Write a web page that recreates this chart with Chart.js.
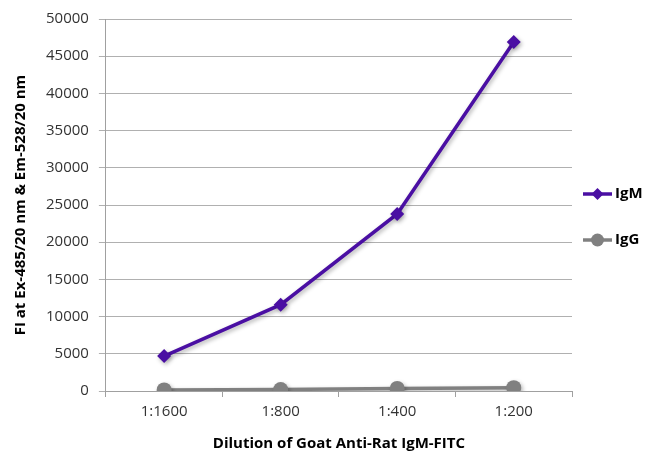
<!DOCTYPE html>
<html>
<head>
<meta charset="utf-8">
<script src="https://cdn.jsdelivr.net/npm/chart.js@4"></script>
<style>
  html, body { margin: 0; padding: 0; background: #fff; }
  #wrap { width: 652px; height: 455px; }
</style>
</head>
<body>
<div id="wrap"><canvas id="c"></canvas></div>
<script>
const categories = ["1:1600", "1:800", "1:400", "1:200"];
const igmValues = [4700, 11600, 23800, 46900];
const iggValues = [150, 200, 350, 450];
const seriesNames = ["IgM", "IgG"];
const yTicks = [0, 5000, 10000, 15000, 20000, 25000, 30000, 35000, 40000, 45000, 50000];

const legendPlugin = {
  id: 'sideLegend',
  afterDraw(chart) {
    const ctx = chart.ctx;
    const x0 = 583, x1 = 612;
    const ys = [194, 240];
    chart.data.datasets.forEach((ds, i) => {
      const y = ys[i];
      ctx.save();
      ctx.strokeStyle = ds.borderColor;
      ctx.lineWidth = 3.5;
      ctx.beginPath();
      ctx.moveTo(x0, y);
      ctx.lineTo(x1, y);
      ctx.stroke();
      ctx.fillStyle = ds.borderColor;
      const cx = (x0 + x1) / 2;
      ctx.beginPath();
      if (ds.pointStyle === 'rectRot') {
        const r = 6;
        ctx.moveTo(cx, y - r); ctx.lineTo(cx + r, y); ctx.lineTo(cx, y + r); ctx.lineTo(cx - r, y);
        ctx.closePath();
      } else {
        ctx.arc(cx, y, 6.5, 0, Math.PI * 2);
      }
      ctx.fill();
      ctx.fillStyle = '#000';
      ctx.font = 'bold 15px "Open Sans"';
      ctx.textBaseline = 'middle';
      ctx.textAlign = 'left';
      ctx.fillText(ds.label, x1 + 3, y);
      ctx.restore();
    });
  }
};

const shadowPlugin = {
  id: 'shadow',
  beforeDatasetsDraw(chart) {
    const ctx = chart.ctx;
    ctx.save();
    ctx.shadowColor = 'rgba(0,0,0,0.3)';
    ctx.shadowBlur = 4;
    ctx.shadowOffsetX = 1.5;
    ctx.shadowOffsetY = 2;
  },
  afterDatasetsDraw(chart) {
    chart.ctx.restore();
  }
};

new Chart(document.getElementById('c'), {
  type: 'line',
  data: {
    labels: categories,
    datasets: [
      {
        label: seriesNames[0],
        data: igmValues,
        borderColor: '#4a0fa3',
        backgroundColor: '#4a0fa3',
        borderWidth: 3.5,
        pointStyle: 'rectRot',
        pointRadius: 7,
        pointBorderWidth: 0,
        tension: 0
      },
      {
        label: seriesNames[1],
        data: iggValues,
        borderColor: '#808080',
        backgroundColor: '#808080',
        borderWidth: 3.5,
        pointStyle: 'circle',
        pointRadius: 7.5,
        pointBorderWidth: 0,
        tension: 0
      }
    ]
  },
  options: {
    responsive: true,
    maintainAspectRatio: false,
    animation: false,
    devicePixelRatio: 1,
    layout: { padding: { top: 12, right: 80, bottom: 2, left: 12 } },
    plugins: {
      legend: { display: false },
      tooltip: { enabled: false }
    },
    scales: {
      x: {
        offset: true,
        grid: {
          display: true,
          offset: true,
          drawOnChartArea: false,
          drawTicks: true,
          tickLength: 6,
          color: '#a0a0a0'
        },
        border: { color: '#a0a0a0', width: 1 },
        ticks: {
          color: '#333',
          font: { family: '"Open Sans"', size: 15 },
          padding: 6
        },
        title: {
          display: true,
          text: 'Dilution of Goat Anti-Rat IgM-FITC',
          color: '#000',
          font: { family: '"Open Sans"', size: 15, weight: 'bold' },
          padding: { top: 8, bottom: 0 }
        }
      },
      y: {
        min: 0,
        max: 50000,
        afterBuildTicks(axis) { axis.ticks = yTicks.map(v => ({ value: v })); },
        grid: {
          color: '#b0b0b0',
          drawTicks: true,
          tickLength: 7
        },
        border: { color: '#a0a0a0', width: 1 },
        ticks: {
          color: '#333',
          font: { family: '"Open Sans"', size: 15 },
          padding: 10,
          callback: (v) => String(v)
        },
        title: {
          display: true,
          text: 'FI at Ex-485/20 nm & Em-528/20 nm',
          color: '#000',
          font: { family: '"Open Sans"', size: 15, weight: 'bold' },
          padding: { top: 0, bottom: 6 }
        }
      }
    }
  },
  plugins: [shadowPlugin, legendPlugin]
});
</script>
</body>
</html>
